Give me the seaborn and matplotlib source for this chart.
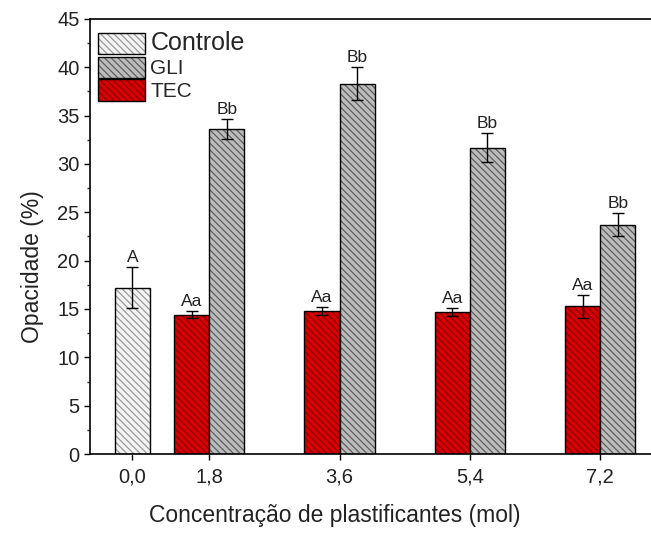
import numpy as np
import pandas as pd
import matplotlib
matplotlib.use("Agg")
import matplotlib.pyplot as plt
import matplotlib.patches as mpatches
import matplotlib.colors as mcolors
from matplotlib.ticker import MultipleLocator
import seaborn as sns

# ---- data ----
conc_labels = ["0,0", "1,8", "3,6", "5,4", "7,2"]
controle_mean = [17.2]
controle_err = [2.1]
controle_letters = ["A"]
tec_mean = [14.4, 14.8, 14.7, 15.3]
tec_err = [0.35, 0.4, 0.4, 1.2]
tec_letters = ["Aa", "Aa", "Aa", "Aa"]
gli_mean = [33.6, 38.3, 31.7, 23.7]
gli_err = [1.05, 1.7, 1.5, 1.2]
gli_letters = ["Bb", "Bb", "Bb", "Bb"]
series_names = ["Controle", "GLI", "TEC"]

# ---- layout ----
tick_pos = np.array([0.41, 1.0, 2.0, 3.0, 4.0])
w = 0.27

sns.set_theme(style="ticks")
plt.rcParams['font.family'] = ['Liberation Sans', 'DejaVu Sans']
plt.rcParams['hatch.linewidth'] = 0.9

fig = plt.figure(figsize=(6.51, 5.36), dpi=100)
ax = fig.add_axes([90/651, 82/536, 1 - 90/651 + 0.002, 435/536])

styles = {
    "Controle": dict(fc="#f4f4f4", hc="#9a9a9a"),
    "GLI": dict(fc="#bcbcbc", hc="#5e5e5e"),
    "TEC": dict(fc="#d60000", hc="#8e0000"),
}
hatch = "\\\\\\\\\\"

def style_patch(p, name):
    p.set_facecolor(styles[name]["fc"])
    p.set_hatch(hatch)
    p.set_edgecolor("black")
    p._hatch_color = mcolors.to_rgba(styles[name]["hc"])
    p.stale = True

def draw(xs, means, name):
    df = pd.DataFrame({"x": xs, "y": means})
    before = len(ax.patches)
    sns.barplot(data=df, x="x", y="y", native_scale=True, width=w,
                color=styles[name]["fc"], errorbar=None, ax=ax,
                edgecolor="black", linewidth=1.0, saturation=1)
    for p in ax.patches[before:]:
        style_patch(p, name)

x_ctrl = tick_pos[:1]
x_tec = tick_pos[1:] - w / 2
x_gli = tick_pos[1:] + w / 2

draw(x_ctrl, controle_mean, "Controle")
draw(x_tec, tec_mean, "TEC")
draw(x_gli, gli_mean, "GLI")

for xs, m, e, lets in [(x_ctrl, controle_mean, controle_err, controle_letters),
                       (x_tec, tec_mean, tec_err, tec_letters),
                       (x_gli, gli_mean, gli_err, gli_letters)]:
    ax.errorbar(xs, m, yerr=e, fmt="none", ecolor="black", elinewidth=1.0,
                capsize=4, capthick=1.0, zorder=5)
    for xi, mi, ei, t in zip(xs, m, e, lets):
        ax.text(xi, mi + ei + 0.2, t, ha="center", va="bottom",
                fontsize=12.5, color="#222222")

ax.set_xlim(0.085, 4.4)
ax.set_ylim(0, 45)
ax.set_xticks(tick_pos)
ax.set_xticklabels(conc_labels)
ax.yaxis.set_major_locator(MultipleLocator(5))
ax.yaxis.set_minor_locator(MultipleLocator(2.5))
ax.tick_params(axis="both", which="major", direction="out", length=4.5,
               width=1.0, labelsize=14.5, colors="black", labelcolor="#222222")
ax.tick_params(axis="y", which="minor", direction="out", length=2.5, width=1.0)
ax.tick_params(axis="x", pad=5)
ax.tick_params(axis="y", pad=3)

for s in ["left", "bottom", "top"]:
    ax.spines[s].set_linewidth(1.2)
    ax.spines[s].set_color("black")
ax.spines["right"].set_visible(False)

ax.set_xlabel("Concentração de plastificantes (mol)", fontsize=16.5, color="#222222")
ax.set_ylabel("Opacidade (%)", fontsize=16.5, color="#222222")
ax.xaxis.set_label_coords(0.435, -0.115)
ax.yaxis.set_label_coords(-0.082, 0.43)

handles = []
for name in series_names:
    h = mpatches.Patch(facecolor=styles[name]["fc"], edgecolor="black",
                       hatch=hatch, linewidth=1.0)
    handles.append(h)
leg = ax.legend(handles, series_names, loc="upper left",
                bbox_to_anchor=(0.0, 0.99), frameon=False, fontsize=14,
                handlelength=2.45, handleheight=1.3, labelspacing=0.08,
                handletextpad=0.25, borderaxespad=0.2, borderpad=0.2)
for h, name in zip(leg.legend_handles, series_names):
    style_patch(h, name)
texts = leg.get_texts()
texts[0].set_fontsize(18)
texts[1].set_fontsize(15)
texts[2].set_fontsize(15)

fig.savefig("out.png", dpi=100)
